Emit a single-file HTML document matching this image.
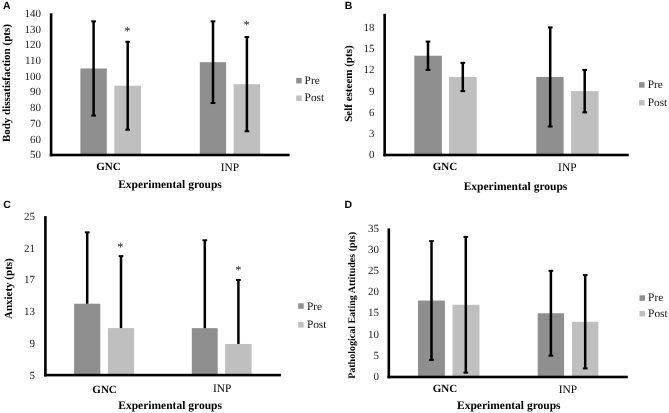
<!DOCTYPE html>
<html><head><meta charset="utf-8"><style>
html,body{margin:0;padding:0;background:#fff;}
body{width:669px;height:413px;overflow:hidden;}
svg{display:block;filter:grayscale(1);}
text{font-family:"Liberation Serif",serif;fill:#000;text-rendering:geometricPrecision;}
.tk{font-size:11px;fill:#222;}
.lg{font-size:11.3px;fill:#111;}
.cb{font-size:11px;font-weight:bold;}
.cr{font-size:11.4px;}
.xt{font-size:11.5px;font-weight:bold;}
.yt{font-weight:bold;}
.ast{font-size:12.5px;fill:#222;}
.pl{font-family:"Liberation Sans",sans-serif;font-size:10.5px;font-weight:bold;}
</style></head><body>
<svg width="669" height="413" viewBox="0 0 669 413">
<rect width="669" height="413" fill="#fff"/>
<rect x="80.4" y="68.47" width="26.40" height="86.53" fill="#8f8f8f"/>
<rect x="114.3" y="85.74" width="26.70" height="69.26" fill="#bfbfbf"/>
<rect x="199.8" y="62.18" width="26.30" height="92.82" fill="#8f8f8f"/>
<rect x="233.6" y="84.17" width="26.60" height="70.83" fill="#bfbfbf"/>
<rect x="92.35" y="21.35" width="2.5" height="94.24" fill="#000"/>
<rect x="91.25" y="20.35" width="4.7" height="2.0" fill="#000"/>
<rect x="91.25" y="114.58" width="4.7" height="2.0" fill="#000"/>
<rect x="126.45" y="41.77" width="2.5" height="87.95" fill="#000"/>
<rect x="125.35" y="40.77" width="4.7" height="2.0" fill="#000"/>
<rect x="125.35" y="128.72" width="4.7" height="2.0" fill="#000"/>
<rect x="211.75" y="21.35" width="2.5" height="81.67" fill="#000"/>
<rect x="210.65" y="20.35" width="4.7" height="2.0" fill="#000"/>
<rect x="210.65" y="102.02" width="4.7" height="2.0" fill="#000"/>
<rect x="245.65" y="37.05" width="2.5" height="94.24" fill="#000"/>
<rect x="244.55" y="36.05" width="4.7" height="2.0" fill="#000"/>
<rect x="244.55" y="130.29" width="4.7" height="2.0" fill="#000"/>
<rect x="49.80" y="13.3" width="2.6" height="143.00" fill="#000"/>
<rect x="49.80" y="153.70" width="239.80" height="2.6" fill="#000"/>
<text x="41" y="16.90" class="tk" text-anchor="end">140</text>
<text x="41" y="32.60" class="tk" text-anchor="end">130</text>
<text x="41" y="48.31" class="tk" text-anchor="end">120</text>
<text x="41" y="64.01" class="tk" text-anchor="end">110</text>
<text x="41" y="79.72" class="tk" text-anchor="end">100</text>
<text x="41" y="95.43" class="tk" text-anchor="end">90</text>
<text x="41" y="111.13" class="tk" text-anchor="end">80</text>
<text x="41" y="126.84" class="tk" text-anchor="end">70</text>
<text x="41" y="142.54" class="tk" text-anchor="end">60</text>
<text x="41" y="158.25" class="tk" text-anchor="end">50</text>
<text x="127.35" y="35.40" class="ast" text-anchor="middle">*</text>
<text x="246.55" y="29.30" class="ast" text-anchor="middle">*</text>
<text x="108.4" y="170" class="cb" text-anchor="middle">GNC</text>
<text x="230" y="171" class="cr" text-anchor="middle">INP</text>
<text x="170" y="188.2" class="xt" text-anchor="middle">Experimental groups</text>
<text transform="translate(9.8,83.1) rotate(-90)" class="yt" style="font-size:11px" text-anchor="middle">Body dissatisfaction (pts)</text>
<rect x="296.2" y="77.9" width="5.5" height="5.5" fill="#8f8f8f"/>
<rect x="296.2" y="95.5" width="5.5" height="5.5" fill="#bfbfbf"/>
<text x="304.6" y="83.5" class="lg">Pre</text>
<text x="304.6" y="101.2" class="lg">Post</text>
<text x="3" y="9" class="pl">A</text>
<rect x="414.3" y="55.73" width="27.60" height="99.27" fill="#8f8f8f"/>
<rect x="449" y="76.97" width="27.70" height="78.03" fill="#bfbfbf"/>
<rect x="536.3" y="76.97" width="27.30" height="78.03" fill="#8f8f8f"/>
<rect x="571.1" y="91.13" width="27.50" height="63.87" fill="#bfbfbf"/>
<rect x="426.75" y="41.57" width="2.5" height="28.32" fill="#000"/>
<rect x="425.65" y="40.57" width="4.7" height="2.0" fill="#000"/>
<rect x="425.65" y="68.89" width="4.7" height="2.0" fill="#000"/>
<rect x="461.55" y="62.81" width="2.5" height="28.32" fill="#000"/>
<rect x="460.45" y="61.81" width="4.7" height="2.0" fill="#000"/>
<rect x="460.45" y="90.13" width="4.7" height="2.0" fill="#000"/>
<rect x="548.95" y="27.41" width="2.5" height="99.12" fill="#000"/>
<rect x="547.85" y="26.41" width="4.7" height="2.0" fill="#000"/>
<rect x="547.85" y="125.53" width="4.7" height="2.0" fill="#000"/>
<rect x="583.45" y="69.89" width="2.5" height="42.48" fill="#000"/>
<rect x="582.35" y="68.89" width="4.7" height="2.0" fill="#000"/>
<rect x="582.35" y="111.37" width="4.7" height="2.0" fill="#000"/>
<rect x="383.35" y="13.8" width="2.6" height="142.50" fill="#000"/>
<rect x="383.35" y="153.70" width="245.35" height="2.6" fill="#000"/>
<text x="374.6" y="30.81" class="tk" text-anchor="end">18</text>
<text x="374.6" y="52.05" class="tk" text-anchor="end">15</text>
<text x="374.6" y="73.29" class="tk" text-anchor="end">12</text>
<text x="374.6" y="94.53" class="tk" text-anchor="end">9</text>
<text x="374.6" y="115.77" class="tk" text-anchor="end">6</text>
<text x="374.6" y="137.01" class="tk" text-anchor="end">3</text>
<text x="374.6" y="158.25" class="tk" text-anchor="end">0</text>
<text x="444.9" y="170.2" class="cb" text-anchor="middle">GNC</text>
<text x="567.3" y="171.4" class="cr" text-anchor="middle">INP</text>
<text x="515.5" y="189.5" class="xt" text-anchor="middle">Experimental groups</text>
<text transform="translate(352,83.6) rotate(-90)" class="yt" style="font-size:11px" text-anchor="middle">Self esteem (pts)</text>
<rect x="639.1" y="82.2" width="5.5" height="5.5" fill="#8f8f8f"/>
<rect x="639.1" y="100" width="5.5" height="5.5" fill="#bfbfbf"/>
<text x="647.8" y="88" class="lg">Pre</text>
<text x="647.8" y="105.7" class="lg">Post</text>
<text x="344.7" y="9" class="pl">B</text>
<rect x="74.1" y="303.73" width="26.20" height="71.37" fill="#8f8f8f"/>
<rect x="107.9" y="328.08" width="26.20" height="47.02" fill="#bfbfbf"/>
<rect x="191.8" y="328.15" width="25.90" height="46.95" fill="#8f8f8f"/>
<rect x="225.1" y="343.94" width="26.50" height="31.16" fill="#bfbfbf"/>
<rect x="85.95" y="232.36" width="2.5" height="71.37" fill="#000"/>
<rect x="84.85" y="231.36" width="4.7" height="2.0" fill="#000"/>
<rect x="119.75" y="256.15" width="2.5" height="71.93" fill="#000"/>
<rect x="118.65" y="255.15" width="4.7" height="2.0" fill="#000"/>
<rect x="203.55" y="240.29" width="2.5" height="87.86" fill="#000"/>
<rect x="202.45" y="239.29" width="4.7" height="2.0" fill="#000"/>
<rect x="237.15" y="279.94" width="2.5" height="64.00" fill="#000"/>
<rect x="236.05" y="278.94" width="4.7" height="2.0" fill="#000"/>
<rect x="44.10" y="216.1" width="2.6" height="160.30" fill="#000"/>
<rect x="44.10" y="373.80" width="236.80" height="2.6" fill="#000"/>
<text x="35" y="219.90" class="tk" text-anchor="end">25</text>
<text x="35" y="251.62" class="tk" text-anchor="end">21</text>
<text x="35" y="283.34" class="tk" text-anchor="end">17</text>
<text x="35" y="315.06" class="tk" text-anchor="end">13</text>
<text x="35" y="346.78" class="tk" text-anchor="end">9</text>
<text x="35" y="378.50" class="tk" text-anchor="end">5</text>
<text x="120.45" y="251.30" class="ast" text-anchor="middle">*</text>
<text x="238.25" y="274.30" class="ast" text-anchor="middle">*</text>
<text x="104.6" y="392.7" class="cb" text-anchor="middle">GNC</text>
<text x="222.2" y="391.6" class="cr" text-anchor="middle">INP</text>
<text x="170.1" y="408.9" class="xt" text-anchor="middle">Experimental groups</text>
<text transform="translate(11.8,288.65) rotate(-90)" class="yt" style="font-size:11px" text-anchor="middle">Anxiety (pts)</text>
<rect x="298.2" y="303.3" width="5.5" height="5.5" fill="#8f8f8f"/>
<rect x="298.2" y="322.1" width="5.5" height="5.5" fill="#bfbfbf"/>
<text x="306.9" y="309.6" class="lg">Pre</text>
<text x="306.9" y="328.4" class="lg">Post</text>
<text x="3.2" y="208" class="pl">C</text>
<rect x="418" y="300.53" width="26.90" height="76.47" fill="#8f8f8f"/>
<rect x="452.6" y="304.77" width="26.90" height="72.23" fill="#bfbfbf"/>
<rect x="537.7" y="313.25" width="26.40" height="63.75" fill="#8f8f8f"/>
<rect x="572" y="321.74" width="26.40" height="55.26" fill="#bfbfbf"/>
<rect x="430.25" y="241.12" width="2.5" height="118.80" fill="#000"/>
<rect x="429.15" y="240.12" width="4.7" height="2.0" fill="#000"/>
<rect x="429.15" y="358.93" width="4.7" height="2.0" fill="#000"/>
<rect x="464.55" y="236.88" width="2.5" height="135.78" fill="#000"/>
<rect x="463.45" y="235.88" width="4.7" height="2.0" fill="#000"/>
<rect x="463.45" y="371.66" width="4.7" height="2.0" fill="#000"/>
<rect x="549.65" y="270.82" width="2.5" height="84.86" fill="#000"/>
<rect x="548.55" y="269.82" width="4.7" height="2.0" fill="#000"/>
<rect x="548.55" y="354.68" width="4.7" height="2.0" fill="#000"/>
<rect x="583.95" y="275.07" width="2.5" height="93.35" fill="#000"/>
<rect x="582.85" y="274.07" width="4.7" height="2.0" fill="#000"/>
<rect x="582.85" y="367.41" width="4.7" height="2.0" fill="#000"/>
<rect x="387.50" y="228.4" width="2.6" height="149.90" fill="#000"/>
<rect x="387.50" y="375.70" width="240.30" height="2.6" fill="#000"/>
<text x="378.9" y="231.59" class="tk" text-anchor="end">35</text>
<text x="378.9" y="252.81" class="tk" text-anchor="end">30</text>
<text x="378.9" y="274.02" class="tk" text-anchor="end">25</text>
<text x="378.9" y="295.24" class="tk" text-anchor="end">20</text>
<text x="378.9" y="316.45" class="tk" text-anchor="end">15</text>
<text x="378.9" y="337.67" class="tk" text-anchor="end">10</text>
<text x="378.9" y="358.88" class="tk" text-anchor="end">5</text>
<text x="378.9" y="380.10" class="tk" text-anchor="end">0</text>
<text x="445.0" y="392.4" class="cb" text-anchor="middle">GNC</text>
<text x="567.9" y="393.1" class="cr" text-anchor="middle">INP</text>
<text x="508.8" y="409.4" class="xt" text-anchor="middle">Experimental groups</text>
<text transform="translate(355.1,305.4) rotate(-90)" class="yt" style="font-size:10px" text-anchor="middle">Pathological Eating Attitudes (pts)</text>
<rect x="639.5" y="295.3" width="5.5" height="5.5" fill="#8f8f8f"/>
<rect x="639.5" y="311" width="5.5" height="5.5" fill="#bfbfbf"/>
<text x="648.1" y="300.7" class="lg">Pre</text>
<text x="648.1" y="316.5" class="lg">Post</text>
<text x="344.4" y="208" class="pl">D</text>
</svg>
</body></html>
